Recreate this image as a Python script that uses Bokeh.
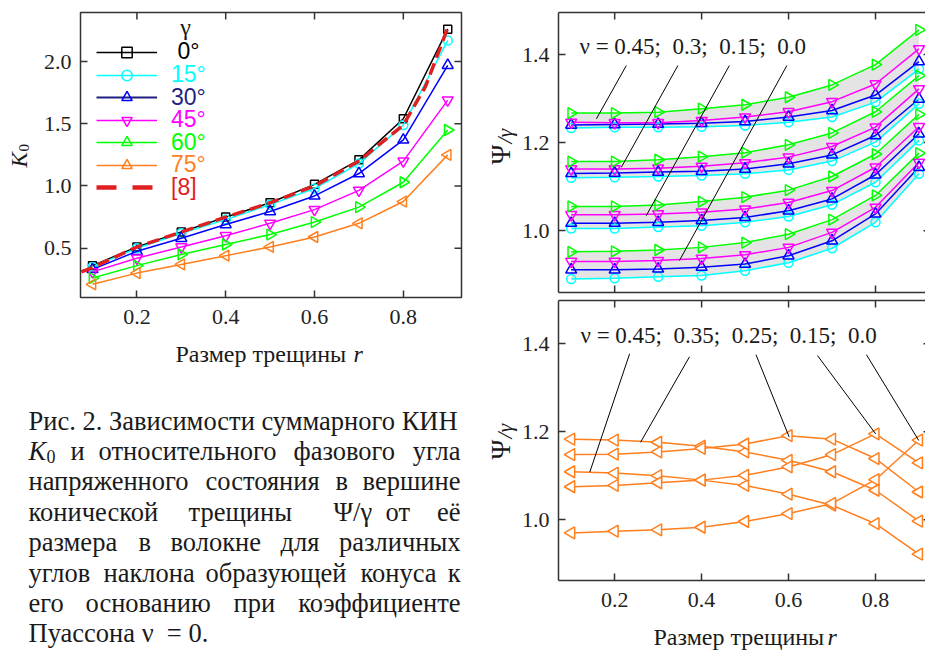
import math
from bokeh.plotting import figure
from bokeh.models import (Range1d, LinearAxis, FixedTicker, Label, Legend, LegendItem,
                          PrintfTickFormatter)
from bokeh.layouts import row, column
from bokeh.embed import file_html
from bokeh.resources import INLINE
from bokeh.core.properties import value

# ---------------- data ----------------
R = [0.1, 0.2, 0.3, 0.4, 0.5, 0.6, 0.7, 0.8, 0.9]

# K0 vs crack size, for cone angles gamma
K0_G0 = [0.36, 0.51, 0.63, 0.75, 0.865, 1.013, 1.21, 1.54, 2.26]
K0_G15 = [0.35, 0.50, 0.62, 0.73, 0.85, 0.98, 1.18, 1.49, 2.17]
K0_G30 = [0.33, 0.475, 0.58, 0.69, 0.795, 0.92, 1.10, 1.37, 1.97]
K0_G45 = [0.31, 0.42, 0.51, 0.60, 0.70, 0.81, 0.965, 1.20, 1.69]
K0_G60 = [0.26, 0.36, 0.45, 0.53, 0.61, 0.71, 0.83, 1.03, 1.45]
K0_G75 = [0.21, 0.30, 0.37, 0.44, 0.51, 0.59, 0.70, 0.875, 1.25]
REF8_R = [0.075, 0.1, 0.2, 0.3, 0.4, 0.5, 0.6, 0.7, 0.8, 0.85, 0.9]
REF8_K0 = [0.31, 0.345, 0.51, 0.63, 0.75, 0.865, 1.0, 1.2, 1.49, 1.8, 2.27]

LEGEND_TITLE = "γ"
LEGEND_LABELS = [" 0°", "15°", "30°", "45°", "60°", "75°", "[8]"]

# Psi/gamma, upper panel: groups for nu = 0.45, 0.3, 0.15, 0.0 ; gamma = 60, 45, 30, 15
PSI_N045_G60 = [1.267, 1.267, 1.269, 1.277, 1.286, 1.303, 1.331, 1.377, 1.456]
PSI_N045_G45 = [1.246, 1.245, 1.245, 1.250, 1.258, 1.270, 1.293, 1.333, 1.413]
PSI_N045_G30 = [1.240, 1.241, 1.242, 1.244, 1.248, 1.258, 1.273, 1.308, 1.384]
PSI_N045_G15 = [1.233, 1.235, 1.235, 1.236, 1.239, 1.246, 1.258, 1.292, 1.367]

PSI_N030_G60 = [1.157, 1.157, 1.161, 1.168, 1.177, 1.195, 1.222, 1.270, 1.352]
PSI_N030_G45 = [1.140, 1.140, 1.142, 1.146, 1.154, 1.167, 1.191, 1.235, 1.322]
PSI_N030_G30 = [1.130, 1.131, 1.133, 1.135, 1.140, 1.152, 1.172, 1.216, 1.299]
PSI_N030_G15 = [1.120, 1.121, 1.123, 1.125, 1.129, 1.138, 1.158, 1.201, 1.288]

PSI_N015_G60 = [1.055, 1.055, 1.058, 1.066, 1.076, 1.092, 1.123, 1.174, 1.264]
PSI_N015_G45 = [1.036, 1.036, 1.038, 1.042, 1.049, 1.064, 1.091, 1.144, 1.236]
PSI_N015_G30 = [1.017, 1.017, 1.019, 1.023, 1.030, 1.045, 1.072, 1.127, 1.220]
PSI_N015_G15 = [1.005, 1.005, 1.008, 1.011, 1.019, 1.032, 1.059, 1.110, 1.205]

PSI_N000_G60 = [0.952, 0.953, 0.956, 0.962, 0.973, 0.992, 1.025, 1.080, 1.176]
PSI_N000_G45 = [0.930, 0.930, 0.932, 0.937, 0.945, 0.962, 0.996, 1.053, 1.155]
PSI_N000_G30 = [0.911, 0.911, 0.913, 0.917, 0.924, 0.943, 0.977, 1.038, 1.144]
PSI_N000_G15 = [0.890, 0.892, 0.895, 0.898, 0.909, 0.927, 0.960, 1.019, 1.129]

# Psi/gamma, lower panel (gamma = 75 deg) for nu = 0.45, 0.35, 0.25, 0.15, 0.0
PSI75_N045 = [1.109, 1.106, 1.100, 1.090, 1.078, 1.058, 1.033, 0.991, 0.922]
PSI75_N035 = [1.183, 1.181, 1.176, 1.167, 1.154, 1.135, 1.109, 1.067, 0.997]
PSI75_N025 = [1.148, 1.149, 1.154, 1.162, 1.172, 1.191, 1.183, 1.139, 1.063]
PSI75_N015 = [1.075, 1.078, 1.084, 1.090, 1.101, 1.120, 1.148, 1.195, 1.129]
PSI75_N000 = [0.970, 0.974, 0.977, 0.983, 0.996, 1.014, 1.037, 1.091, 1.181]

NB = "\u00a0"
TOP_NOTE = "ν = 0.45;" + NB + " 0.3;" + NB + " 0.15;" + NB + " 0.0"
BOTTOM_NOTE = "ν = 0.45;" + NB + " 0.35;" + NB + " 0.25;" + NB + " 0.15;" + NB + " 0.0"

# leader lines (annotation positions in data units)
TOP_LEAD_X0 = [0.2268, 0.3454, 0.4638, 0.5961]
TOP_LEAD_Y0 = [1.375, 1.375, 1.375, 1.375]
TOP_LEAD_X1 = [0.158, 0.2154, 0.2727, 0.349]
TOP_LEAD_Y1 = [1.254, 1.144, 1.034, 0.932]
BOT_LEAD_X0 = [0.2344, 0.372, 0.525, 0.6665, 0.7791]
BOT_LEAD_Y0 = [1.377, 1.370, 1.375, 1.373, 1.375]
BOT_LEAD_X1 = [0.1427, 0.2596, 0.6014, 0.8004, 0.8995]
BOT_LEAD_Y1 = [1.108, 1.176, 1.188, 1.195, 1.180]

X_TICKS = [0.2, 0.4, 0.6, 0.8]
K_TICKS = [0.5, 1.0, 1.5, 2.0]
PSI_TICKS = [1.0, 1.2, 1.4]

X_LABEL = "Размер трещины"
X_LABEL_VAR = "r"

CAPTION = [
    "Рис. 2. Зависимости суммарного КИН",
    "K0 и относительного фазового угла",
    "напряженного состояния в вершине",
    "конической трещины Ψ/γ от её",
    "размера в волокне для различных",
    "углов наклона образующей конуса к",
    "его основанию при коэффициенте",
    "Пуассона ν" + NB + " = 0.",
]

# ---------------- styles ----------------
C0, C15, C30, C45, C60, C75 = "#000000", "#00ffff", "#0000ff", "#ff00ff", "#00ff00", "#ff7f1e"
NAVY = "#1f1f80"
RED = "#e02020"
FRAME = "#333333"
TXT = "#1a1a1a"
SERIF = "Liberation Serif"
SANS = "Liberation Sans"
TICK_FS = "22px"


def no_align(p):
    try:
        p.frame_align = False
    except Exception:
        pass


def text_fig(w, h):
    p = figure(width=w, height=h, output_backend="svg", toolbar_location=None,
               x_range=Range1d(0, w), y_range=Range1d(h, 0), min_border=0,
               x_axis_location=None, y_axis_location=None)
    p.grid.visible = False
    p.outline_line_color = None
    no_align(p)
    return p


def txt(p, x, y, s, size, style="normal", angle=0.0, align="left", font=SERIF, color=TXT):
    p.text(x=[x], y=[y], text=[s], text_font=value(font), text_font_size=size,
           text_font_style=style, text_color=color, angle=angle, text_align=align,
           text_baseline="middle")


def style_axis(ax, ticks, standoff=9):
    ax.ticker = FixedTicker(ticks=ticks)
    ax.formatter = PrintfTickFormatter(format="%.1f")
    ax.major_tick_in = 7
    ax.major_tick_out = 0
    ax.major_tick_line_color = FRAME
    ax.major_tick_line_width = 1.5
    ax.minor_tick_line_color = None
    ax.axis_line_color = FRAME
    ax.axis_line_width = 1.5
    ax.major_label_text_font = SERIF
    ax.major_label_text_font_size = TICK_FS
    ax.major_label_text_color = "#222222"
    ax.major_label_standoff = standoff


def border_axis(p, side):
    a = LinearAxis(ticker=FixedTicker(ticks=[]), axis_line_color=FRAME, axis_line_width=1.5,
                   major_tick_line_color=None, minor_tick_line_color=None)
    p.add_layout(a, side)


def mirror_ticks(p, xs, ys, angle, length):
    p.ray(x=xs, y=ys, length=length, length_units="screen", angle=angle,
          line_color=FRAME, line_width=1.5)


def lab(p, text, sx, sy, size, style="normal", color=TXT, align="left", font=SERIF):
    p.add_layout(Label(x=sx, y=sy, x_units="screen", y_units="screen", text=text,
                       text_font=font, text_font_size=size, text_font_style=style,
                       text_color=color, text_align=align, text_baseline="middle"))


# ---------------- left panel: K0 ----------------
KW = 40                      # width of the y-label strip
LW, LH = 480 - KW, 335
FL, FR, FT, FB = 77, 461, 12, 297  # frame in canvas pixels
XL0, XL1 = 0.073, 0.931
YL0, YL1 = 0.104, 2.394
pl = figure(width=LW, height=LH, output_backend="svg", toolbar_location=None,
            x_range=Range1d(XL0, XL1), y_range=Range1d(YL0, YL1),
            min_border_left=FL - KW, min_border_right=480 - FR, min_border_top=FT,
            min_border_bottom=LH - FB)
no_align(pl)
pl.grid.visible = False
pl.outline_line_color = FRAME
pl.outline_line_width = 1.5
style_axis(pl.xaxis[0], X_TICKS, standoff=12)
style_axis(pl.yaxis[0], K_TICKS, standoff=9)
pl.xaxis[0].axis_line_color = None
pl.yaxis[0].axis_line_color = None
mirror_ticks(pl, X_TICKS, [YL1] * len(X_TICKS), -math.pi / 2, 7)
mirror_ticks(pl, [XL1] * len(K_TICKS), K_TICKS, math.pi, 7)

series = [
    (K0_G0, C0, "square", 0.0, 8),
    (K0_G15, C15, "circle", 0.0, 9),
    (K0_G30, C30, "triangle", 0.0, 11),
    (K0_G45, C45, "inverted_triangle", 0.0, 11),
    (K0_G60, C60, "triangle", -math.pi / 2, 11),
    (K0_G75, C75, "triangle", math.pi / 2, 11),
]
rend = []
for ys, col, mk, ang, sz in series:
    ln = pl.line(R, ys, line_color=col, line_width=1.5)
    sc = pl.scatter(R, ys, marker=mk, angle=ang, size=sz, line_color=col, line_width=1.5,
                    fill_alpha=0)
    rend.append((ln, sc))
ref_line = pl.line(REF8_R, REF8_K0, line_color=RED, line_width=3.5, line_dash="12 6")

# legend (one Legend per item so each label keeps its series colour)
leg_navy = pl.line(R[:1], K0_G30[:1], line_color=NAVY, line_width=2)
leg_red = pl.line(REF8_R[:1], REF8_K0[:1], line_color=RED, line_width=4.5, line_dash="20 16")
LEG_Y = [52.3, 75.0, 97.7, 120.3, 142.7, 165.0, 187.7]
LEG_COLORS = [C0, C15, NAVY, C45, C60, C75, RED]
GH = 26
for i, lbl in enumerate(LEGEND_LABELS):
    if i < 6:
        ln, sc = rend[i]
        rs = [leg_navy, sc] if i == 2 else [ln, sc]
    else:
        rs = [leg_red]
    leg = Legend(items=[LegendItem(label=lbl, renderers=rs)],
                 location=(93 - FL, FB - (LEG_Y[i] + GH / 2)),
                 padding=0, spacing=0, margin=0, border_line_color=None,
                 background_fill_alpha=0, glyph_width=61, glyph_height=GH, label_height=GH,
                 label_standoff=14, label_text_font=SANS, label_text_font_size="23px",
                 label_text_color=LEG_COLORS[i], label_text_baseline="middle")
    pl.add_layout(leg)
lab(pl, LEGEND_TITLE, 182 - FL, FB - 26, "24px", align="center")

# y label strip
pk = text_fig(KW, LH)
txt(pk, 19, 167, "K", "23px", style="italic", angle=math.pi / 2)
txt(pk, 23, 151, "0", "15px", angle=math.pi / 2)

# ---------------- caption (with x label of left panel) ----------------
CW, CH = 480, 650 - LH
CY0 = LH
pc = text_fig(CW, CH)
txt(pc, 175, 353 - CY0, X_LABEL, "24px")
txt(pc, 353, 353 - CY0, X_LABEL_VAR, "24px", style="italic")

# word start positions (justified text); the last word of a line is right-aligned
CAP_X = [
    [28],
    [None, 70, 98, 293, 460],
    [28, 205, 335, 460],
    [28, 188, 333, 385, 460],
    [28, 138, 170, 280, 460],
    [28, 103, 205, 360, 460],
    [28, 85, 233, 460],
    [28],
]
CAP_FS = "26.5px"
lx, ly, lt, rx, ry, rt = [], [], [], [], [], []
for i, line in enumerate(CAPTION):
    base = 420 + 30.4 * i - CY0
    xs = CAP_X[i]
    words = line.split(" ") if len(xs) > 1 else [line]
    if i == 1:
        words = words[1:]
        xs = xs[1:]
    for j, (w, x) in enumerate(zip(words, xs)):
        if len(xs) > 1 and j == len(xs) - 1:
            rx.append(x); ry.append(base); rt.append(w)
        else:
            lx.append(x); ly.append(base); lt.append(w)
cap_kw = dict(text_font=value(SERIF), text_font_size=CAP_FS, text_color=TXT,
              text_baseline="middle")
pc.text(x=lx, y=ly, text=lt, text_align="left", **cap_kw)
pc.text(x=rx, y=ry, text=rt, text_align="right", **cap_kw)
txt(pc, 28, 420 + 30.4 - CY0, "K", CAP_FS, style="italic")
txt(pc, 46, 420 + 30.4 - CY0 + 6, "0", "18px")

# ---------------- right panels ----------------
PW = 38                    # width of the psi-label strips
RW = 445 - PW
RFL = 557 - 480 - PW       # frame left inside right figure
XR0, XR1 = 0.0708, 0.915


def right_fig(height, top, bottom, y0, y1, labels_x):
    p = figure(width=RW, height=height, output_backend="svg", toolbar_location=None,
               x_range=Range1d(XR0, XR1), y_range=Range1d(y0, y1),
               min_border_left=RFL, min_border_right=0, min_border_top=top,
               min_border_bottom=bottom,
               x_axis_location="below" if labels_x else None)
    no_align(p)
    p.grid.visible = False
    p.outline_line_color = None
    if labels_x:
        style_axis(p.xaxis[0], X_TICKS, standoff=12)
    else:
        border_axis(p, "below")
        mirror_ticks(p, X_TICKS, [y0] * len(X_TICKS), math.pi / 2, 7)
    style_axis(p.yaxis[0], PSI_TICKS, standoff=9)
    border_axis(p, "above")
    mirror_ticks(p, X_TICKS, [y1] * len(X_TICKS), -math.pi / 2, 7)
    mirror_ticks(p, [XR1] * len(PSI_TICKS), PSI_TICKS, math.pi, 2)
    return p


TH = 294
YT0, YT1 = 0.8595, 1.4955
pt = right_fig(TH, 12, 2, YT0, YT1, False)
TFB = 292  # canvas y of frame bottom
groups = [
    (PSI_N045_G60, PSI_N045_G45, PSI_N045_G30, PSI_N045_G15),
    (PSI_N030_G60, PSI_N030_G45, PSI_N030_G30, PSI_N030_G15),
    (PSI_N015_G60, PSI_N015_G45, PSI_N015_G30, PSI_N015_G15),
    (PSI_N000_G60, PSI_N000_G45, PSI_N000_G30, PSI_N000_G15),
]
for g60, g45, g30, g15 in groups:
    pt.varea(x=R, y1=g15, y2=g60, fill_color="#e4e4e4")
for g60, g45, g30, g15 in groups:
    for ys, col in [(g15, C15), (g30, C30), (g45, C45), (g60, C60)]:
        pt.line(R, ys, line_color=col, line_width=1.5)
for g60, g45, g30, g15 in groups:
    pt.scatter(R, g15, marker="circle", size=9, line_color=C15, line_width=1.5, fill_alpha=0)
    pt.scatter(R, g30, marker="triangle", size=11, line_color=C30, line_width=1.5, fill_alpha=0)
    pt.scatter(R, g45, marker="inverted_triangle", size=11, line_color=C45, line_width=1.5,
               fill_alpha=0)
    pt.scatter(R, g60, marker="triangle", angle=-math.pi / 2, size=11, line_color=C60,
               line_width=1.5, fill_alpha=0)
pt.segment(TOP_LEAD_X0, TOP_LEAD_Y0, TOP_LEAD_X1, TOP_LEAD_Y1, line_color="black",
           line_width=1)
lab(pt, TOP_NOTE, 578 - 557, TFB - 46, "23px")

ppt = text_fig(PW, TH)
txt(ppt, 20, 164, "Ψ", "27px", angle=math.pi / 2)
txt(ppt, 24, 143, "/γ", "22px", style="italic", angle=math.pi / 2)

BY0 = TH
BH = 620 - TH
YB0, YB1 = 0.862, 1.498
pb = right_fig(BH, 300 - BY0, 620 - 580, YB0, YB1, True)
BFB = 580
for ys in [PSI75_N045, PSI75_N035, PSI75_N025, PSI75_N015, PSI75_N000]:
    pb.line(R, ys, line_color=C75, line_width=1.5)
for ys in [PSI75_N045, PSI75_N035, PSI75_N025, PSI75_N015, PSI75_N000]:
    pb.scatter(R, ys, marker="triangle", angle=math.pi / 2, size=12, line_color=C75,
               line_width=1.5, fill_color="white")
pb.segment(BOT_LEAD_X0, BOT_LEAD_Y0, BOT_LEAD_X1, BOT_LEAD_Y1, line_color="black",
           line_width=1)
lab(pb, BOTTOM_NOTE, 579 - 557, BFB - 335, "23px")

ppb = text_fig(PW, BH)
txt(ppb, 20, 459 - BY0, "Ψ", "27px", angle=math.pi / 2)
txt(ppb, 24, 438 - BY0, "/γ", "22px", style="italic", angle=math.pi / 2)

XH = 650 - 620
px = text_fig(445, XH)
txt(px, 653 - 480, 636 - 620, X_LABEL, "24px")
txt(px, 827 - 480, 636 - 620, X_LABEL_VAR, "24px", style="italic")

left = column(row(pk, pl, spacing=0), pc, spacing=0)
right = column(row(ppt, pt, spacing=0), row(ppb, pb, spacing=0), px, spacing=0)
layout = row(left, right, spacing=0)
open("out.html", "w").write(file_html(layout, INLINE))
